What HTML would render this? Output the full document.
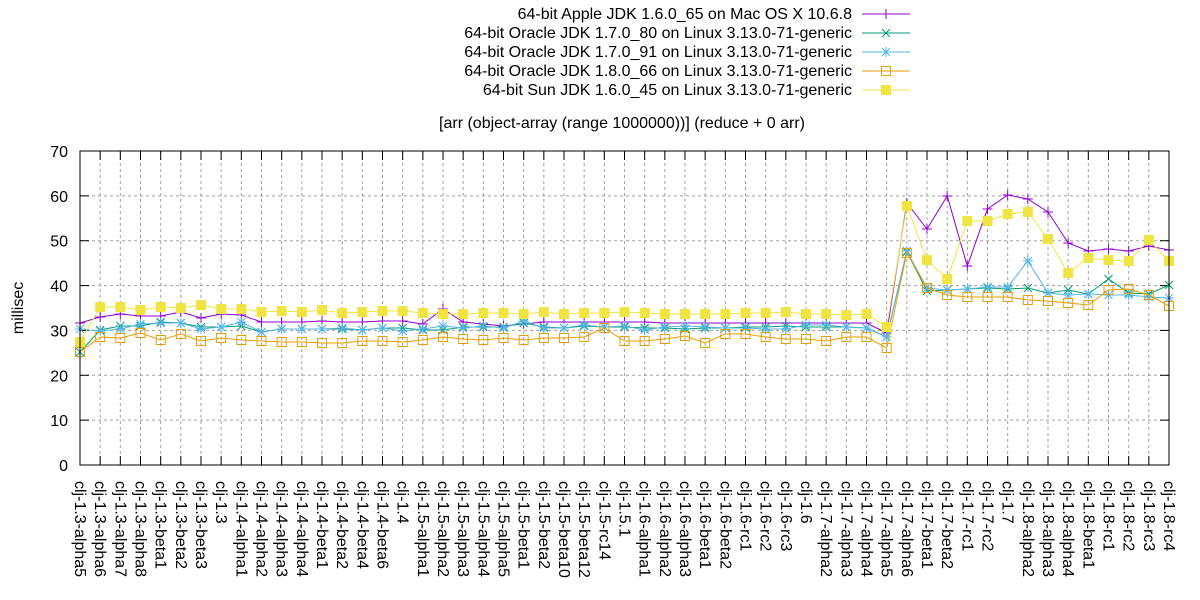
<!DOCTYPE html>
<html><head><meta charset="utf-8">
<style>
html,body{margin:0;padding:0;background:#fff;}
svg{display:block;font-family:"Liberation Sans",Arial,sans-serif;}
</style></head>
<body>
<svg id="s" width="1200" height="600" viewBox="0 0 1200 600" xmlns="http://www.w3.org/2000/svg">
<rect width="1200" height="600" fill="#fff"/>
<g font-size="16" fill="#000" text-anchor="end">
<text x="852" y="19">64-bit Apple JDK 1.6.0_65 on Mac OS X 10.6.8</text>
<text x="852" y="38">64-bit Oracle JDK 1.7.0_80 on Linux 3.13.0-71-generic</text>
<text x="852" y="57">64-bit Oracle JDK 1.7.0_91 on Linux 3.13.0-71-generic</text>
<text x="852" y="76">64-bit Oracle JDK 1.8.0_66 on Linux 3.13.0-71-generic</text>
<text x="852" y="95">64-bit Sun JDK 1.6.0_45 on Linux 3.13.0-71-generic</text>
</g>
<text x="622" y="128" font-size="16" text-anchor="middle">[arr (object-array (range 1000000))] (reduce + 0 arr)</text>
<text transform="translate(23,308) rotate(-90)" font-size="16" text-anchor="middle">millisec</text>
<g id="grid"></g>
<g id="series"></g>
<g id="legend"></g>
<rect x="80" y="151" width="1089" height="314" fill="none" stroke="#000" stroke-width="1"/>
<g id="labels"></g>
</svg>
<script>
var NS="http://www.w3.org/2000/svg";
function el(p,t,a,txt){var e=document.createElementNS(NS,t);for(var k in a)e.setAttribute(k,a[k]);if(txt!=null)e.textContent=txt;p.appendChild(e);return e;}
var grid=document.getElementById('grid'),ser=document.getElementById('series'),lab=document.getElementById('labels'),leg=document.getElementById('legend');
var X0=80,X1=1169,N=55,st=(X1-X0)/(N-1);
function xi(i){return X0+st*i;}
for(var k=0;k<=7;k++){var y=465-k*(314/7);
 if(k>0&&k<7)el(grid,'line',{x1:80,x2:1169,y1:y,y2:y,stroke:'#a0a0a0','stroke-dasharray':'3,3'});
 el(grid,'line',{x1:80,x2:89,y1:y,y2:y,stroke:'#000'});
 el(grid,'line',{x1:1160,x2:1169,y1:y,y2:y,stroke:'#000'});
 el(lab,'text',{x:68,y:y+6,'font-size':16,'text-anchor':'end'},String(k*10));}
var names=["clj-1.3-alpha5","clj-1.3-alpha6","clj-1.3-alpha7","clj-1.3-alpha8","clj-1.3-beta1","clj-1.3-beta2","clj-1.3-beta3","clj-1.3",
"clj-1.4-alpha1","clj-1.4-alpha2","clj-1.4-alpha3","clj-1.4-alpha4","clj-1.4-beta1","clj-1.4-beta2","clj-1.4-beta4","clj-1.4-beta6","clj-1.4",
"clj-1.5-alpha1","clj-1.5-alpha2","clj-1.5-alpha3","clj-1.5-alpha4","clj-1.5-alpha5","clj-1.5-beta1","clj-1.5-beta2","clj-1.5-beta10","clj-1.5-beta12","clj-1.5-rc14","clj-1.5.1",
"clj-1.6-alpha1","clj-1.6-alpha2","clj-1.6-alpha3","clj-1.6-beta1","clj-1.6-beta2","clj-1.6-rc1","clj-1.6-rc2","clj-1.6-rc3","clj-1.6",
"clj-1.7-alpha2","clj-1.7-alpha3","clj-1.7-alpha4","clj-1.7-alpha5","clj-1.7-alpha6","clj-1.7-beta1","clj-1.7-beta2","clj-1.7-rc1","clj-1.7-rc2","clj-1.7",
"clj-1.8-alpha2","clj-1.8-alpha3","clj-1.8-alpha4","clj-1.8-beta1","clj-1.8-rc1","clj-1.8-rc2","clj-1.8-rc3","clj-1.8-rc4"];
for(var i=0;i<N;i++){var x=xi(i);
 if(i>0&&i<N-1)el(grid,'line',{x1:x,x2:x,y1:151,y2:465,stroke:'#a0a0a0','stroke-dasharray':'3,3'});
 el(grid,'line',{x1:x,x2:x,y1:456,y2:465,stroke:'#000'});
 el(grid,'line',{x1:x,x2:x,y1:151,y2:160,stroke:'#000'});
 el(lab,'text',{transform:'translate('+(x-5)+',481) rotate(90)','font-size':16},names[i]);}
var D={
P:[323,317,314,316,316,312,318,314,315,322,322,322,321,322,322,321,321,324,309,322,324, 326,324,322,322,322,322,322,322,323,323,323,323,323,323,323,323,323,323,323, 333, 203,229,196,266,209,195,199,212,243,251,249,251,246,250],
Y:[342,307,307,310,307,308,305,309,309,312,311,312,310,313,312,311,311,313,314,314,313, 313,314,312,314,313,313,312,313,314,314,314,314,313,313,312,314,314,315,314, 327, 206,260,279,221,221,214,212,239,273,258,260,261,240,261],
G:[352,330,326,326,322,323,327,327,326,332,329,329,329,329,330,328,328,330,330,327,327, 327,323,327,328,326,327,327,328,328,329,328,328,327,327,326,327,327,327,328, 337, 252,291,290,289,288,289,288,293,290,294,279,293,294,285],
B:[329,331,329,324,323,323,329,327,322,332,329,329,329,328,330,328,331,329,326,328,326, 328,321,328,328,325,327,326,330,327,326,327,328,328,329,329,325,325,327,328, 337, 251,288,290,289,287,287,261,293,295,294,295,295,297,298],
O:[352,337,338,333,340,334,341,338,340,341,342,342,343,343,341,341,342,340,337,339,340, 338,340,338,338,337,328,341,341,339,336,343,334,334,337,339,339,341,337,337, 348, 253,288,295,297,297,297,300,301,303,305,290,289,295,306]};
var C={P:'#9400d3',G:'#009e73',B:'#56b4e9',O:'#e69f00',Y:'#f0e442'};
function mark(g,t,x,y,c){
 if(t=='P'){el(g,'path',{d:'M'+(x-5)+' '+y+'h10M'+x+' '+(y-5)+'v10',stroke:c,fill:'none'});}
 else if(t=='G'){el(g,'path',{d:'M'+(x-4)+' '+(y-4)+'l8 8M'+(x-4)+' '+(y+4)+'l8 -8',stroke:c,fill:'none'});}
 else if(t=='B'){el(g,'path',{d:'M'+(x-5)+' '+y+'h10M'+x+' '+(y-5)+'v10M'+(x-4)+' '+(y-4)+'l8 8M'+(x-4)+' '+(y+4)+'l8 -8',stroke:c,fill:'none'});}
 else if(t=='O'){el(g,'rect',{x:x-4.5,y:y-4.5,width:9,height:9,stroke:c,fill:'none'});}
 else {el(g,'rect',{x:x-5,y:y-5,width:10,height:10,fill:c});}
}
['P','G','B','O','Y'].forEach(function(k,j){
 var pts=D[k].map(function(v,i){return xi(i).toFixed(1)+','+v;}).join(' ');
 el(ser,'polyline',{points:pts,fill:'none',stroke:C[k],'stroke-width':1});
 D[k].forEach(function(v,i){mark(ser,k,xi(i),v,C[k]);});
 var ly=14+j*19;
 el(leg,'line',{x1:862,x2:910,y1:ly,y2:ly,stroke:C[k]});
 mark(leg,k,886,ly,C[k]);
});
</script>
</body></html>
